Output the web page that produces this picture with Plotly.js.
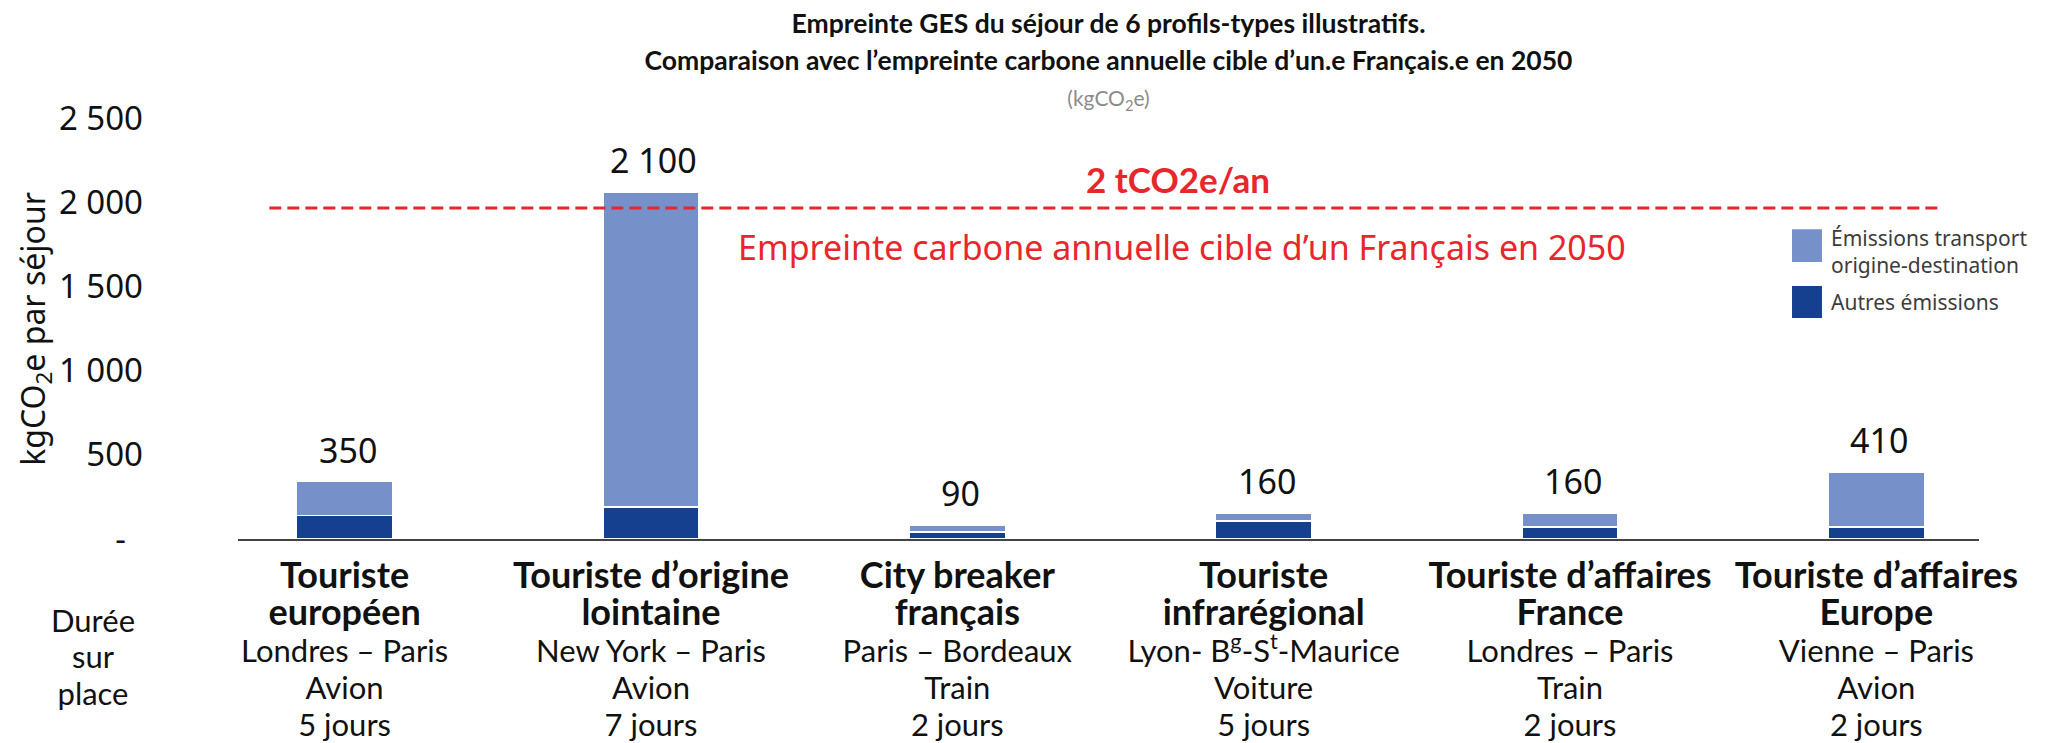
<!DOCTYPE html>
<html>
<head>
<meta charset="utf-8">
<script src="https://cdn.plot.ly/plotly-3.0.1.min.js"></script>
<style>html,body{margin:0;padding:0;background:#fff;}#chart{width:2047px;height:743px;}</style>
</head>
<body>
<div id="chart"></div>
<script>
// ---- Data ----
const categories = ["Touriste européen", "Touriste d’origine lointaine", "City breaker français", "Touriste infrarégional", "Touriste d’affaires France", "Touriste d’affaires Europe"];
const catLine1 = ["Touriste", "Touriste d’origine", "City breaker", "Touriste", "Touriste d’affaires", "Touriste d’affaires"];
const catLine2 = ["européen", "lointaine", "français", "infrarégional", "France", "Europe"];
const routes = ["Londres – Paris", "New York – Paris", "Paris – Bordeaux", "Lyon- B<sup>g</sup>-S<sup>t</sup>-Maurice", "Londres – Paris", "Vienne – Paris"];
const modes = ["Avion", "Avion", "Train", "Voiture", "Train", "Avion"];
const durations = ["5 jours", "7 jours", "2 jours", "5 jours", "2 jours", "2 jours"];
const autresEmissions = [140, 190, 42, 107, 71, 71];
const transportEmissions = [200, 1870, 41, 47, 83, 327];
const totalLabels = ["350", "2 100", "90", "160", "160", "410"];
const targetValue = 1965;
const yTickVals = [0, 500, 1000, 1500, 2000, 2500];
const yTickText = ["-\u00a0\u00a0", "500", "1 000", "1 500", "2 000", "2 500"];

// ---- Styles ----
const DARK = "#15408f";
const LIGHT = "#7690c9";
const RED = "#e8262c";
const FONT = "Lato, 'Noto Sans', sans-serif";
const NUMFONT = "'Noto Sans', 'Open Sans', sans-serif";

const B = s => "<span style='font-size:36px'><b>" + s + "</b></span>";
const R = s => "<span style='font-size:31px'>" + s + "</span>";
const tickText = categories.map((c, i) =>
  B(catLine1[i]) + "<br>" + B(catLine2[i]) + "<br>" + R(routes[i]) + "<br>" + R(modes[i]) + "<br>" + R(durations[i]));

const totals = autresEmissions.map((v, i) => v + transportEmissions[i]);

const traces = [
  {type: "bar", name: "Autres émissions", x: categories, y: autresEmissions,
   marker: {color: DARK, line: {color: "#ffffff", width: 1.2}}, hoverinfo: "x+y", showlegend: false},
  {type: "bar", name: "Émissions transport origine-destination", x: categories, y: transportEmissions,
   marker: {color: LIGHT, line: {color: "#ffffff", width: 1.2}}, hoverinfo: "x+y", showlegend: false}
];

const annotations = totals.map((t, i) => ({
  x: categories[i], y: t, xref: "x", yref: "y", text: totalLabels[i], showarrow: false,
  xanchor: "center", yanchor: "middle", yshift: 32, xshift: 3,
  font: {family: NUMFONT, size: 34, color: "#111111"}
}));

annotations.push(
  {xref: "paper", yref: "paper", x: 0.540, y: 0.855, text: "<b>2 tCO2e/an</b>", showarrow: false,
   xanchor: "center", yanchor: "middle", font: {family: FONT, size: 35, color: RED}},
  {xref: "paper", yref: "paper", x: 0.542, y: 0.694, text: "Empreinte carbone annuelle cible d’un Français en 2050", showarrow: false,
   xanchor: "center", yanchor: "middle", font: {family: NUMFONT, size: 34, color: RED}},
  {xref: "paper", yref: "paper", x: 0.9138, y: 0.682, text: "Émissions transport<br>origine-destination", showarrow: false,
   xanchor: "left", yanchor: "middle", align: "left", font: {family: NUMFONT, size: 21, color: "#3c3c3c"}},
  {xref: "paper", yref: "paper", x: 0.9138, y: 0.563, text: "Autres émissions", showarrow: false,
   xanchor: "left", yanchor: "middle", align: "left", font: {family: NUMFONT, size: 21, color: "#3c3c3c"}},
  {xref: "paper", yref: "paper", x: -0.083, y: -0.278, text: "<span style='font-size:31px'>Durée</span><br><span style='font-size:31px'>sur</span><br><span style='font-size:31px'>place</span>", showarrow: false,
   xanchor: "center", yanchor: "middle", align: "center", font: {family: FONT, size: 28, color: "#111111"}},
  {xref: "paper", yref: "paper", x: -0.117, y: 0.5, text: "kgCO<sub>2</sub>e par séjour", showarrow: false,
   textangle: -90, xanchor: "center", yanchor: "middle", font: {family: NUMFONT, size: 32, color: "#111111"}}
);

const shapes = [
  {type: "line", xref: "paper", yref: "y", x0: 0.018, x1: 0.978, y0: targetValue, y1: targetValue,
   line: {color: RED, width: 3, dash: "12px,6px"}},
  {type: "rect", xref: "paper", yref: "paper", x0: 0.8926, x1: 0.9098, y0: 0.658, y1: 0.736,
   fillcolor: LIGHT, line: {width: 0}},
  {type: "rect", xref: "paper", yref: "paper", x0: 0.8926, x1: 0.9098, y0: 0.525, y1: 0.601,
   fillcolor: DARK, line: {width: 0}}
];

const layout = {
  width: 2047, height: 743,
  margin: {l: 238, r: 68, t: 118, b: 204},
  paper_bgcolor: "#ffffff", plot_bgcolor: "#ffffff",
  barmode: "stack", bargap: 0.687,
  showlegend: false,
  title: {
    text: "<span style='font-size:26.5px'><b>Empreinte GES du séjour de 6 profils-types illustratifs.</b></span><br>" +
          "<span style='font-size:26.5px'><b>Comparaison avec l’empreinte carbone annuelle cible d’un.e Français.e en 2050</b></span><br>" +
          "<span style='font-size:21px;color:#8c8c8c'>(kgCO<sub>2</sub>e)</span>",
    font: {family: FONT, size: 28, color: "#111111"},
    x: 0.5, xref: "paper", xanchor: "center",
    y: 0.955, yref: "container", yanchor: "top"
  },
  xaxis: {
    type: "category", range: [-0.348, 5.335], tickvals: categories, ticktext: tickText,
    showline: true, linecolor: "#444444", linewidth: 2, ticks: "", showgrid: false, zeroline: false,
    ticklabelstandoff: 13,
    tickfont: {family: FONT, size: 28.5, color: "#111111"}, fixedrange: true
  },
  yaxis: {
    range: [0, 2500], tickvals: yTickVals, ticktext: yTickText,
    showline: false, showgrid: false, zeroline: false, ticks: "",
    ticklabelstandoff: 94,
    tickfont: {family: NUMFONT, size: 33, color: "#111111"}, fixedrange: true
  },
  annotations: annotations,
  shapes: shapes
};

Plotly.newPlot("chart", traces, layout, {displayModeBar: false, staticPlot: true});
</script>
</body>
</html>
